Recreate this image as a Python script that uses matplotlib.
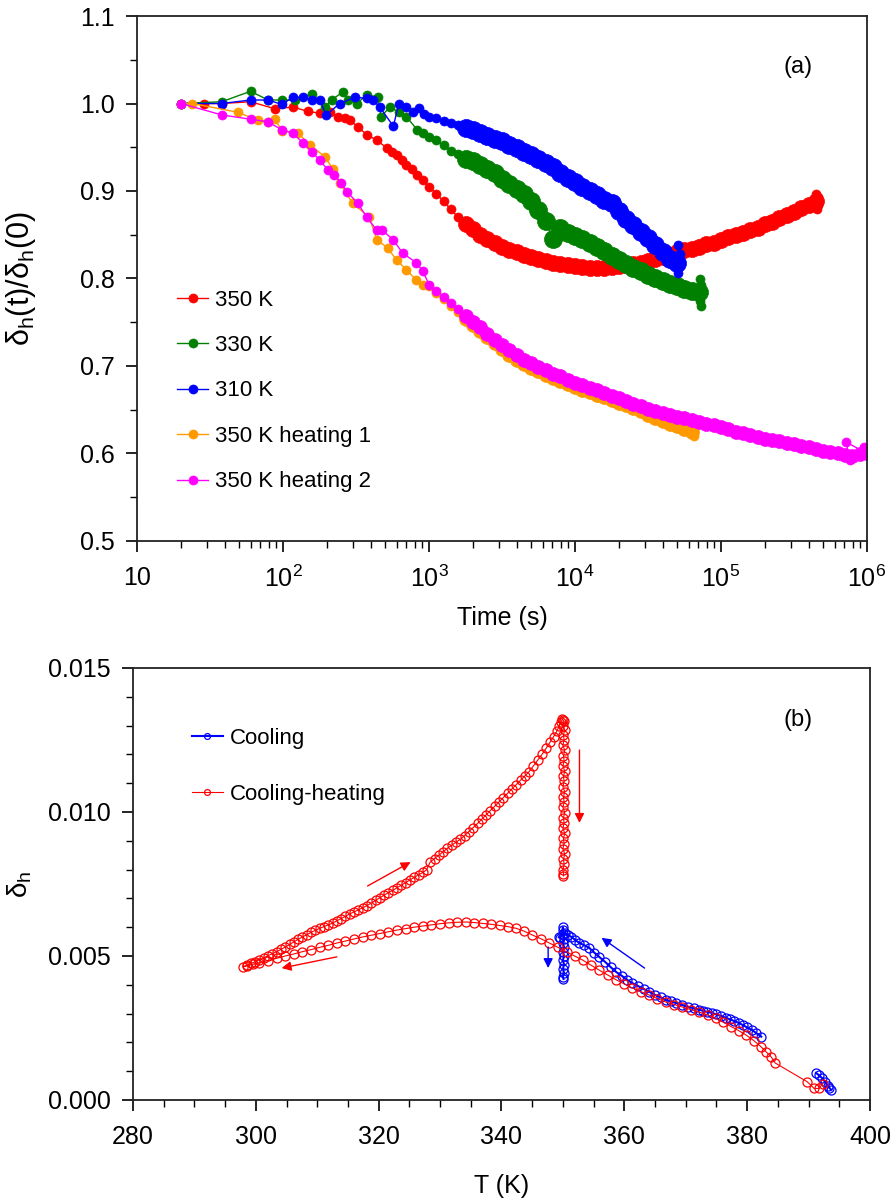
import numpy as np
import matplotlib
matplotlib.use('Agg')
import matplotlib.pyplot as plt
from matplotlib.ticker import FixedLocator, FixedFormatter, MultipleLocator, LogLocator, NullFormatter, FormatStrFormatter

plt.rcParams['font.family'] = ['Liberation Sans', 'DejaVu Sans']
plt.rcParams['mathtext.fontset'] = 'custom'
plt.rcParams['mathtext.rm'] = 'Liberation Sans'
plt.rcParams['mathtext.it'] = 'Liberation Sans:italic'
plt.rcParams['mathtext.default'] = 'regular'

# ---------------- panel (a): relaxation at fixed temperature ----------------
# shared time grid for the dense (late) part of each run
t_late = [1000, 1120, 1260, 1410, 1580, 1780, 2000, 2240, 2510, 2820,
          3160, 3550, 3980, 4470, 5010, 5620, 6310, 7080, 7940, 8910,
          10000, 11200, 12600, 14100, 15800, 17800, 20000, 22400, 25100, 28200,
          31600, 35500, 39800, 44700, 50100, 56200, 63100, 70800, 79400, 89100,
          100000, 112000, 126000, 141000, 158000, 178000, 200000, 224000, 251000, 282000,
          316000, 355000, 398000, 447000, 501000, 562000, 631000, 708000, 794000, 891000,
          1000000]

# 350 K
t_red_e = [20, 29, 38, 60, 88, 117, 148, 178, 210, 238, 265, 288, 326, 378, 440, 515, 560, 600, 650, 700, 760, 830, 910]
v_red_e = [1.000, 1.000, 1.000, 1.002, 0.994, 0.996, 0.991, 0.989, 0.990, 0.985, 0.983, 0.981, 0.973, 0.964,
           0.958, 0.949, 0.945, 0.941, 0.935, 0.930, 0.925, 0.918, 0.913]
v_red_l = [0.905, 0.897, 0.888, 0.879, 0.870, 0.862, 0.856, 0.850, 0.845, 0.840,
           0.836, 0.833, 0.830, 0.827, 0.825, 0.822, 0.820, 0.818, 0.816, 0.815,
           0.814, 0.813, 0.812, 0.812, 0.812, 0.813, 0.814, 0.815, 0.816, 0.818,
           0.820, 0.822, 0.825, 0.827, 0.830, 0.832, 0.834, 0.836, 0.839, 0.841,
           0.844, 0.847, 0.850, 0.852, 0.855, 0.858, 0.862, 0.865, 0.869, 0.873,
           0.876, 0.880, 0.884, 0.888]
t_red_tail = [450000, 455000, 460000, 462000]
v_red_tail = [0.897, 0.879, 0.893, 0.884]

# 330 K
t_grn_e = [20, 38, 60, 79, 98, 120, 158, 194, 215, 256, 280, 320, 377, 447, 470, 540, 620, 700, 830, 910]
v_grn_e = [1.000, 1.002, 1.014, 1.004, 1.004, 1.004, 1.011, 0.996, 1.004, 1.013, 1.004, 1.000, 1.010, 1.007,
           0.985, 0.996, 0.990, 0.985, 0.970, 0.966]
v_grn_l = [0.962, 0.958, 0.952, 0.946, 0.942, 0.937, 0.934, 0.930, 0.925, 0.920,
           0.914, 0.908, 0.902, 0.896, 0.888, 0.878, 0.866, 0.845, 0.858, 0.852,
           0.849, 0.845, 0.841, 0.836, 0.831, 0.826, 0.821, 0.816, 0.812, 0.808,
           0.804, 0.800, 0.797, 0.794, 0.791, 0.788, 0.786, 0.784]
t_grn_tail = [71500, 72000, 72500, 73000, 73500]
v_grn_tail = [0.799, 0.774, 0.792, 0.768, 0.783]

# 310 K
t_blu_e = [20, 38, 60, 79, 98, 117, 137, 158, 178, 198, 245, 310, 375, 414, 460, 570, 620, 700, 780, 860, 930]
v_blu_e = [1.000, 1.000, 1.004, 1.004, 0.999, 1.007, 1.007, 1.004, 1.004, 0.987, 1.000, 1.007, 1.006, 1.004,
           0.996, 0.974, 0.999, 0.996, 0.990, 0.995, 0.988]
v_blu_l = [0.985, 0.984, 0.980, 0.978, 0.975, 0.972, 0.970, 0.966, 0.963, 0.960,
           0.957, 0.953, 0.949, 0.945, 0.941, 0.937, 0.932, 0.927, 0.921, 0.915,
           0.910, 0.905, 0.900, 0.895, 0.890, 0.886, 0.877, 0.868, 0.861, 0.853,
           0.846, 0.838, 0.830, 0.822, 0.818]
t_blu_tail = [50500, 51000, 51500, 52000, 52500]
v_blu_tail = [0.838, 0.806, 0.813, 0.828, 0.818]

# 350 K heating 1
t_org_e = [20, 24, 49, 67, 79, 88, 98, 127, 152, 194, 220, 245, 300, 390, 440, 520, 600, 700, 820, 910]
v_org_e = [1.000, 1.000, 0.990, 0.981, 0.979, 0.982, 0.969, 0.966, 0.953, 0.939, 0.925, 0.909, 0.886, 0.870,
           0.844, 0.835, 0.821, 0.810, 0.798, 0.792]
v_org_l = [0.791, 0.783, 0.776, 0.769, 0.762, 0.754, 0.747, 0.740, 0.733, 0.726,
           0.719, 0.713, 0.707, 0.702, 0.698, 0.694, 0.690, 0.686, 0.683, 0.679,
           0.676, 0.673, 0.670, 0.667, 0.664, 0.661, 0.658, 0.655, 0.652, 0.649,
           0.644, 0.641, 0.637, 0.634, 0.631, 0.628, 0.625]
t_org_tail = [64000, 65000]
v_org_tail = [0.627, 0.620]

# 350 K heating 2
t_mag_e = [20, 38, 60, 79, 98, 117, 137, 158, 178, 204, 225, 250, 275, 325, 375, 440, 480, 570, 660, 820, 910]
v_mag_e = [1.000, 0.987, 0.982, 0.979, 0.970, 0.966, 0.955, 0.945, 0.935, 0.924, 0.918, 0.909, 0.899, 0.886,
           0.870, 0.855, 0.855, 0.844, 0.829, 0.818, 0.808]
v_mag_l = [0.793, 0.786, 0.779, 0.772, 0.765, 0.757, 0.750, 0.744, 0.737, 0.730,
           0.724, 0.718, 0.712, 0.707, 0.703, 0.699, 0.695, 0.691, 0.688, 0.684,
           0.681, 0.678, 0.675, 0.672, 0.669, 0.666, 0.663, 0.660, 0.657, 0.654,
           0.651, 0.649, 0.646, 0.644, 0.642, 0.640, 0.638, 0.636, 0.634, 0.632,
           0.630, 0.628, 0.625, 0.623, 0.621, 0.619, 0.617, 0.615, 0.614, 0.612,
           0.611, 0.609, 0.607, 0.605, 0.603, 0.602, 0.600, 0.598, 0.597, 0.599,
           0.600]
t_mag_tail = [720000, 760000, 950000]
v_mag_tail = [0.613, 0.593, 0.607]

# (label, colour, early t, early v, late v, tail t, tail v, band marker size)
runs_a = [
    ('350 K', 'red', t_red_e, v_red_e, v_red_l, t_red_tail, v_red_tail, 11.5),
    ('330 K', 'green', t_grn_e, v_grn_e, v_grn_l, t_grn_tail, v_grn_tail, 13),
    ('310 K', 'blue', t_blu_e, v_blu_e, v_blu_l, t_blu_tail, v_blu_tail, 13),
    ('350 K heating 1', '#ff9900', t_org_e, v_org_e, v_org_l, t_org_tail, v_org_tail, 10),
    ('350 K heating 2', 'magenta', t_mag_e, v_mag_e, v_mag_l, t_mag_tail, v_mag_tail, 10),
]
band_start = 5   # index in t_late where the points merge into a band

# ---------------- panel (b): delta_h vs temperature ----------------
# Cooling (blue): high-T start, main branch, isotherm at 350 K
T_c_start = [393.7, 393.4, 393.1, 392.7, 392.2, 391.7, 391.2]
d_c_start = [0.00035, 0.00042, 0.00050, 0.00062, 0.00076, 0.00086, 0.00094]
T_c_main = [382.3, 381.5, 380.8, 380.0, 379.3, 378.7, 377.9, 377.2, 376.6, 375.8, 375.0, 374.3, 373.5, 372.8,
            372.2, 371.3, 370.4, 369.4, 368.5, 367.6, 366.8, 365.9, 365.0, 364.1, 363.2, 362.2, 361.3, 360.4,
            359.6, 358.7, 357.8, 356.9, 355.9, 355.1, 354.3, 353.5, 352.7, 352.0, 351.4, 350.8, 350.3]
d_c_main = [0.00220, 0.00232, 0.00243, 0.00252, 0.00260, 0.00267, 0.00274, 0.00280, 0.00285, 0.00291,
            0.00297, 0.00302, 0.00306, 0.00310, 0.00313, 0.00318, 0.00324, 0.00330, 0.00336, 0.00342,
            0.00347, 0.00356, 0.00365, 0.00375, 0.00385, 0.00396, 0.00406, 0.00418, 0.00431, 0.00444,
            0.00461, 0.00479, 0.00497, 0.00512, 0.00528, 0.00537, 0.00545, 0.00556, 0.00566, 0.00573, 0.00580]
T_c_iso = [349.3, 349.6, 350.0, 350.1, 350.0, 350.2, 350.0, 350.2, 350.0, 350.2, 350.0, 350.2, 350.0, 350.2,
           350.0, 350.1]
d_c_iso = [0.00565, 0.00562, 0.00600, 0.00590, 0.00575, 0.00560, 0.00545, 0.00530, 0.00515, 0.00500,
           0.00485, 0.00470, 0.00455, 0.00440, 0.00428, 0.00420]

# Cooling-heating (red): cooling branch, heating branch, isotherm at 350 K
T_h_cool = [392.3, 391.7, 390.9, 389.8,
            384.6, 383.9, 383.1, 382.3, 381.1, 379.8, 378.6, 377.4, 376.1, 374.9, 373.6, 372.2, 370.8, 369.4,
            368.1, 366.8, 365.4, 364.1, 362.7, 361.3, 360.0, 358.7, 357.3, 355.9, 354.5, 353.2, 351.9, 350.6,
            349.2, 347.8, 346.4, 345.0, 343.7, 342.4, 341.0, 339.7, 338.3, 337.0, 335.6, 334.2, 332.8, 331.4,
            330.0, 328.6, 327.2, 325.8, 324.4, 323.0, 321.6, 320.2, 318.8, 317.4, 316.0, 314.6, 313.2, 311.8,
            310.4, 309.0, 307.6, 306.2, 304.8, 303.4, 302.0, 300.6, 299.5, 298.6, 297.9]
d_h_cool = [0.00057, 0.00040, 0.00040, 0.00063,
            0.00128, 0.00150, 0.00167, 0.00184, 0.00206, 0.00226, 0.00241, 0.00255, 0.00270, 0.00283,
            0.00295, 0.00305, 0.00314, 0.00323, 0.00331, 0.00340, 0.00352, 0.00364, 0.00376, 0.00389,
            0.00403, 0.00417, 0.00434, 0.00451, 0.00469, 0.00486, 0.00500, 0.00514, 0.00530, 0.00545,
            0.00560, 0.00573, 0.00586, 0.00596, 0.00602, 0.00606, 0.00610, 0.00613, 0.00616, 0.00618,
            0.00617, 0.00615, 0.00612, 0.00608, 0.00604, 0.00600, 0.00595, 0.00590, 0.00584, 0.00578,
            0.00572, 0.00566, 0.00559, 0.00552, 0.00545, 0.00537, 0.00530, 0.00522, 0.00515, 0.00507,
            0.00500, 0.00492, 0.00484, 0.00477, 0.00471, 0.00466, 0.00462]
T_h_heat = [298.5, 299.2, 299.9, 300.6, 301.3, 302.0, 302.7, 303.4, 304.1, 304.8, 305.5, 306.2, 306.9, 307.6,
            308.3, 309.0, 309.7, 310.4, 311.1, 311.8, 312.5, 313.2, 313.9, 314.6, 315.3, 316.0, 316.7, 317.4,
            318.1, 318.8, 319.5, 320.2, 320.9, 321.6, 322.3, 323.0, 323.7, 324.4, 325.1, 325.8, 326.5, 327.2,
            327.8, 328.4, 329.1, 329.8, 330.5, 331.2, 331.9, 332.6, 333.3, 334.0, 334.7, 335.4, 336.1, 336.8,
            337.5, 338.2, 338.9, 339.6, 340.3, 341.0, 341.7, 342.4, 343.1, 343.8, 344.5, 345.2, 345.9, 346.6,
            347.3, 347.9, 348.5, 349.0, 349.4, 349.7, 349.9, 350.1]
d_h_heat = [0.00468, 0.00474, 0.00480, 0.00487, 0.00494, 0.00501, 0.00508, 0.00515, 0.00523, 0.00531,
            0.00540, 0.00549, 0.00558, 0.00566, 0.00574, 0.00582, 0.00589, 0.00596, 0.00602, 0.00608,
            0.00614, 0.00622, 0.00630, 0.00638, 0.00646, 0.00653, 0.00660, 0.00667, 0.00675, 0.00684,
            0.00693, 0.00702, 0.00711, 0.00720, 0.00728, 0.00737, 0.00746, 0.00755, 0.00764, 0.00773,
            0.00782, 0.00790, 0.00799, 0.00826, 0.00838, 0.00850, 0.00862, 0.00874, 0.00885, 0.00895,
            0.00905, 0.00918, 0.00932, 0.00946, 0.00960, 0.00975, 0.00990, 0.01005, 0.01020, 0.01035,
            0.01050, 0.01065, 0.01080, 0.01095, 0.01110, 0.01125, 0.01140, 0.01160, 0.01180, 0.01200,
            0.01222, 0.01242, 0.01262, 0.01280, 0.01298, 0.01312, 0.01322, 0.01318]
T_h_iso = [350.2, 350.0, 350.3, 350.1, 350.2, 350.0, 350.3, 350.1, 350.2, 350.0, 350.3, 350.1, 350.2, 350.0,
           350.3, 350.1, 350.2, 350.0, 350.3, 350.1, 350.2, 350.0, 350.3, 350.1, 350.2, 350.0, 350.3, 350.1,
           350.2, 350.0, 350.1, 350.1]
d_h_iso = [0.01315, 0.01300, 0.01285, 0.01268, 0.01250, 0.01232, 0.01214, 0.01196, 0.01178, 0.01160,
           0.01142, 0.01124, 0.01106, 0.01088, 0.01070, 0.01052, 0.01034, 0.01016, 0.00998, 0.00980,
           0.00962, 0.00944, 0.00926, 0.00908, 0.00890, 0.00872, 0.00854, 0.00836, 0.00818, 0.00800,
           0.00785, 0.00778]

# direction arrows (tail -> head) in data units
arrows_b = [
    ('red', (318.2, 0.00743), (325.2, 0.00826)),
    ('red', (313.2, 0.00497), (304.2, 0.00458)),
    ('red', (352.7, 0.01215), (352.7, 0.00962)),
    ('blue', (347.6, 0.00531), (347.6, 0.00458)),
    ('blue', (363.3, 0.00458), (356.3, 0.00563)),
]

# ---------------- figure ----------------
fig = plt.figure(figsize=(8.93, 12.04), dpi=100)
ax1 = fig.add_axes([0.1534, 0.5507, 0.8175, 0.4360])
ax2 = fig.add_axes([0.1489, 0.0864, 0.8253, 0.3588])

for label, c, te, ve, vl, tt, vt, band_ms in runs_a:
    tl = t_late[:len(vl)]
    ax1.plot(te + tl + tt, ve + vl + vt, '-o', color=c, lw=1.0, ms=6.5, mec=c, mew=0.5, label=label)
    # dense part of each run: many overlapping points form a thick band
    ax1.plot(tl[band_start:], vl[band_start:], 'o', color=c, ms=band_ms, mec=c, mew=0.5)

ax1.set_xscale('log')
ax1.set_xlim(10, 1e6)
ax1.set_ylim(0.5, 1.1)
ax1.xaxis.set_major_locator(FixedLocator([10, 1e2, 1e3, 1e4, 1e5, 1e6]))
ax1.xaxis.set_major_formatter(FixedFormatter(['10', '$10^2$', '$10^3$', '$10^4$', '$10^5$', '$10^6$']))
ax1.xaxis.set_minor_locator(LogLocator(base=10, subs=np.arange(2, 10)))
ax1.xaxis.set_minor_formatter(NullFormatter())
ax1.yaxis.set_major_locator(MultipleLocator(0.1))
ax1.yaxis.set_minor_locator(MultipleLocator(0.05))
ax1.yaxis.set_major_formatter(FormatStrFormatter('%.1f'))
ax1.set_xlabel('Time (s)', fontsize=18, labelpad=10)
ax1.set_ylabel(r'$\delta_h(t)/\delta_h(0)$', fontsize=22)
ax1.yaxis.set_label_coords(-0.135, 0.5)
ax1.text(0.905, 0.903, '(a)', transform=ax1.transAxes, ha='center', va='center', fontsize=17)
ax1.legend(loc='upper left', bbox_to_anchor=(0.055, 0.479), frameon=False, fontsize=16,
           handlelength=1.4, handletextpad=0.3, labelspacing=1.1, borderpad=0, borderaxespad=0)

ax2.plot(T_c_start + [np.nan] + T_c_main + T_c_iso, d_c_start + [np.nan] + d_c_main + d_c_iso,
         '-o', color='blue', lw=1.5, ms=6.5, mfc='none', mew=0.9, label='Cooling')
ax2.plot(T_h_cool + T_h_heat + T_h_iso, d_h_cool + d_h_heat + d_h_iso,
         '-o', color='red', lw=0.8, ms=6.5, mfc='none', mew=0.9, label='Cooling-heating')
for c, tail, head in arrows_b:
    ax2.annotate('', xy=head, xytext=tail,
                 arrowprops=dict(arrowstyle='-|>', color=c, lw=1.0, mutation_scale=14, shrinkA=0, shrinkB=0))

ax2.set_xlim(280, 400)
ax2.set_ylim(0, 0.015)
ax2.xaxis.set_major_locator(MultipleLocator(20))
ax2.xaxis.set_minor_locator(MultipleLocator(5))
ax2.yaxis.set_major_locator(MultipleLocator(0.005))
ax2.yaxis.set_minor_locator(MultipleLocator(0.001))
ax2.yaxis.set_major_formatter(FormatStrFormatter('%.3f'))
ax2.set_xlabel('T (K)', fontsize=18, labelpad=18)
ax2.set_ylabel(r'$\delta_h$', fontsize=20)
ax2.yaxis.set_label_coords(-0.134, 0.5)
ax2.text(0.902, 0.88, '(b)', transform=ax2.transAxes, ha='center', va='center', fontsize=17)
ax2.legend(loc='upper left', bbox_to_anchor=(0.08, 0.862), frameon=False, fontsize=16, markerscale=0.65,
           handlelength=1.4, handletextpad=0.3, labelspacing=1.6, borderpad=0, borderaxespad=0)

for ax in (ax1, ax2):
    for s in ax.spines.values():
        s.set_linewidth(1.3)
        s.set_color('#222222')
    ax.tick_params(which='major', direction='out', length=8, width=1.2, labelsize=18, pad=8,
                   top=False, right=False)
    ax.tick_params(which='minor', direction='out', length=5, width=1.0, top=False, right=False)
    ax.tick_params(axis='x', which='major', pad=10)

fig.savefig('out.png', dpi=100)
